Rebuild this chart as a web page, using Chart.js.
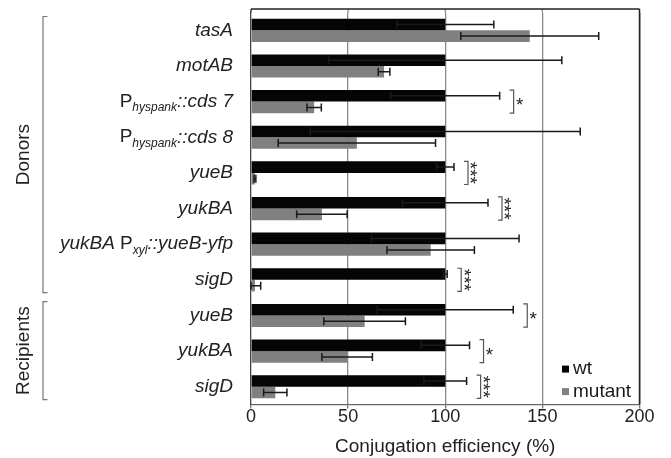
<!DOCTYPE html>
<html>
<head>
<meta charset="utf-8">
<script src="https://cdn.jsdelivr.net/npm/chart.js@4/dist/chart.umd.min.js"></script>
<style>
  html, body { margin: 0; padding: 0; background: #fff; }
  #chart { display: block; }
</style>
</head>
<body>
<canvas id="chart" width="671" height="458"></canvas>
<script>
// Category labels: {..} = upright text, _{..} = subscript, the rest is italic
const categories = ['tasA', 'motAB', '{P}_{hyspank}::cds 7', '{P}_{hyspank}::cds 8', 'yueB', 'yukBA',
    'yukBA {P}_{xyl}::yueB-yfp', 'sigD', 'yueB', 'yukBA', 'sigD'];
const groupNames = ['Donors', 'Recipients'];
const groupSizes = [8, 3];

// Conjugation efficiency (%) and error bars
const wtValues = [100, 100, 100, 100, 100, 100, 100, 100, 100, 100, 100];
const wtErrors = [25, 60, 28, 69.5, 4.5, 22, 38, 1, 35, 12.5, 11];
const mutantValues = [143.5, 68.5, 32.5, 54.5, 2, 36.5, 92.5, 2, 58.5, 49.5, 12.5];
const mutantErrors = [35.5, 3, 3.7, 40.5, 0.5, 13, 22.5, 3, 21, 13, 6];
const significance = ['', '', '*', '', '***', '***', '', '***', '*', '*', '***'];

const xTicks = [0, 50, 100, 150, 200];
const xTitle = 'Conjugation efficiency (%)';

const FONT = "'Liberation Sans', Arial, sans-serif";
const TOP_EXT = 3.5;

// Split a label into its parts
function parseLabel(text) {
    let parts = [];
    let re = /_\{([^}]*)\}|\{([^}]*)\}|([^{_]+)/g;
    let m;
    while ((m = re.exec(text)) !== null) {
        if (m[1] !== undefined) parts.push({ t: m[1], font: 'italic 12px ' + FONT, dy: 6 });
        else if (m[2] !== undefined) parts.push({ t: m[2], font: '19px ' + FONT, dy: 0 });
        else parts.push({ t: m[3], font: 'italic 19px ' + FONT, dy: 0 });
    }
    return parts;
}

const decorations = {
    id: 'decorations',
    afterDatasetsDraw(chart) {
        const ctx = chart.ctx;
        const area = chart.chartArea;
        const xs = chart.scales.x;
        const ys = chart.scales.y;
        ctx.save();

        // frame extensions above the bars and the top/right border
        xTicks.forEach(function (v) {
            let px = xs.getPixelForValue(v);
            ctx.beginPath();
            ctx.strokeStyle = (v === 0 || v === 200) ? '#222' : '#8a8a8a';
            ctx.lineWidth = (v === 200) ? 1.5 : 1.3;
            ctx.moveTo(px, area.top - TOP_EXT);
            ctx.lineTo(px, v === 200 ? area.bottom : area.top);
            ctx.stroke();
        });
        ctx.beginPath();
        ctx.strokeStyle = '#222';
        ctx.lineWidth = 1.5;
        ctx.moveTo(area.left, area.top - TOP_EXT);
        ctx.lineTo(area.right, area.top - TOP_EXT);
        ctx.stroke();

        // error bars
        const errs = [wtErrors, mutantErrors];
        chart.data.datasets.forEach(function (ds, d) {
            chart.getDatasetMeta(d).data.forEach(function (bar, i) {
                let v = ds.data[i], e = errs[d][i];
                let x1 = xs.getPixelForValue(Math.max(0, v - e));
                let x2 = xs.getPixelForValue(v + e);
                ctx.beginPath();
                ctx.strokeStyle = '#1a1a1a';
                ctx.lineWidth = 1.5;
                ctx.moveTo(x1, bar.y);
                ctx.lineTo(x2, bar.y);
                ctx.moveTo(x1, bar.y - 4);
                ctx.lineTo(x1, bar.y + 4);
                ctx.moveTo(x2, bar.y - 4);
                ctx.lineTo(x2, bar.y + 4);
                ctx.stroke();
            });
        });

        // significance brackets
        const wtMeta = chart.getDatasetMeta(0).data;
        const mutMeta = chart.getDatasetMeta(1).data;
        significance.forEach(function (s, i) {
            if (!s) return;
            let maxVal = Math.max(wtValues[i] + wtErrors[i], mutantValues[i] + mutantErrors[i]);
            let bx = xs.getPixelForValue(maxVal) + 10;
            let top = wtMeta[i].y - wtMeta[i].height / 2;
            let bottom = mutMeta[i].y + mutMeta[i].height / 2;
            ctx.beginPath();
            ctx.strokeStyle = '#555';
            ctx.lineWidth = 1.2;
            ctx.moveTo(bx, top);
            ctx.lineTo(bx + 4, top);
            ctx.lineTo(bx + 4, bottom);
            ctx.lineTo(bx, bottom);
            ctx.stroke();
            let cy = (top + bottom) / 2;
            ctx.fillStyle = '#222';
            ctx.font = '19px ' + FONT;
            ctx.textAlign = 'center';
            ctx.textBaseline = 'alphabetic';
            let m = ctx.measureText('*');
            let off = (m.actualBoundingBoxAscent - m.actualBoundingBoxDescent) / 2;
            ctx.save();
            ctx.translate(bx + 10, cy);
            if (s.length > 1) ctx.rotate(Math.PI / 2);
            ctx.fillText(s, 0, off);
            ctx.restore();
        });

        // category labels
        ctx.fillStyle = '#222';
        ctx.textBaseline = 'middle';
        ctx.textAlign = 'left';
        categories.forEach(function (label, i) {
            let parts = parseLabel(label);
            let y = ys.getPixelForValue(i);
            let total = 0;
            parts.forEach(function (p) { ctx.font = p.font; p.w = ctx.measureText(p.t).width; total += p.w; });
            let x = area.left - 18 - total;
            parts.forEach(function (p) {
                ctx.font = p.font;
                ctx.fillText(p.t, x, y + p.dy);
                x += p.w;
            });
        });

        // group brackets and names
        let start = 0;
        const step = ys.getPixelForValue(1) - ys.getPixelForValue(0);
        groupNames.forEach(function (name, g) {
            let end = start + groupSizes[g] - 1;
            let top = ys.getPixelForValue(start) - step / 2 + 4;
            let bottom = ys.getPixelForValue(end) + step / 2 - 5;
            ctx.beginPath();
            ctx.strokeStyle = '#777';
            ctx.lineWidth = 1.2;
            ctx.moveTo(47.5, top);
            ctx.lineTo(43, top);
            ctx.lineTo(43, bottom);
            ctx.lineTo(47.5, bottom);
            ctx.stroke();
            ctx.save();
            ctx.translate(24, (top + bottom) / 2);
            ctx.rotate(-Math.PI / 2);
            ctx.font = '19px ' + FONT;
            ctx.textAlign = 'center';
            ctx.textBaseline = 'middle';
            ctx.fillStyle = '#222';
            ctx.fillText(name, 0, 0);
            ctx.restore();
            start = end + 1;
        });

        // legend
        chart.data.datasets.forEach(function (ds, d) {
            let ly = area.bottom - 35.5 + d * 22.5;
            let lx = area.right - 77.5;
            ctx.fillStyle = ds.backgroundColor;
            ctx.fillRect(lx, ly - 3.5, 7, 7);
            ctx.fillStyle = '#1a1a1a';
            ctx.font = '19px ' + FONT;
            ctx.textAlign = 'left';
            ctx.textBaseline = 'middle';
            ctx.fillText(ds.label, lx + 11, ly);
        });
        ctx.restore();
    }
};

const ctx = document.getElementById('chart').getContext('2d');
const chart = new Chart(ctx, {
    type: 'bar',
    data: {
        labels: categories,
        datasets: [{
            label: 'wt',
            data: wtValues,
            backgroundColor: '#050505',
            categoryPercentage: 0.65,
            barPercentage: 1
        }, {
            label: 'mutant',
            data: mutantValues,
            backgroundColor: '#808080',
            categoryPercentage: 0.65,
            barPercentage: 1
        }]
    },
    options: {
        indexAxis: 'y',
        responsive: false,
        animation: false,
        layout: { padding: { left: 243, right: 31.5, top: 12.5, bottom: 0 } },
        scales: {
            x: {
                min: 0,
                max: 200,
                afterBuildTicks: function (scale) { scale.ticks = xTicks.map(function (v) { return { value: v }; }); },
                ticks: { font: { size: 18, family: FONT }, color: '#222', padding: -2, maxRotation: 0 },
                grid: {
                    color: function (c) { return c.tick && c.tick.value === 200 ? '#222' : (c.tick && c.tick.value === 0 ? 'rgba(0,0,0,0)' : '#8a8a8a'); },
                    lineWidth: 1.3,
                    tickLength: 4,
                    tickColor: '#777'
                },
                border: { color: '#666', width: 1.3 },
                title: { display: true, text: xTitle, font: { size: 19, family: FONT }, color: '#222', padding: { top: 9, bottom: 0 } }
            },
            y: {
                ticks: { display: false },
                grid: { display: false },
                border: { color: '#444', width: 1.3 }
            }
        },
        plugins: { legend: { display: false }, tooltip: { enabled: false } }
    },
    plugins: [decorations]
});
</script>
</body>
</html>
